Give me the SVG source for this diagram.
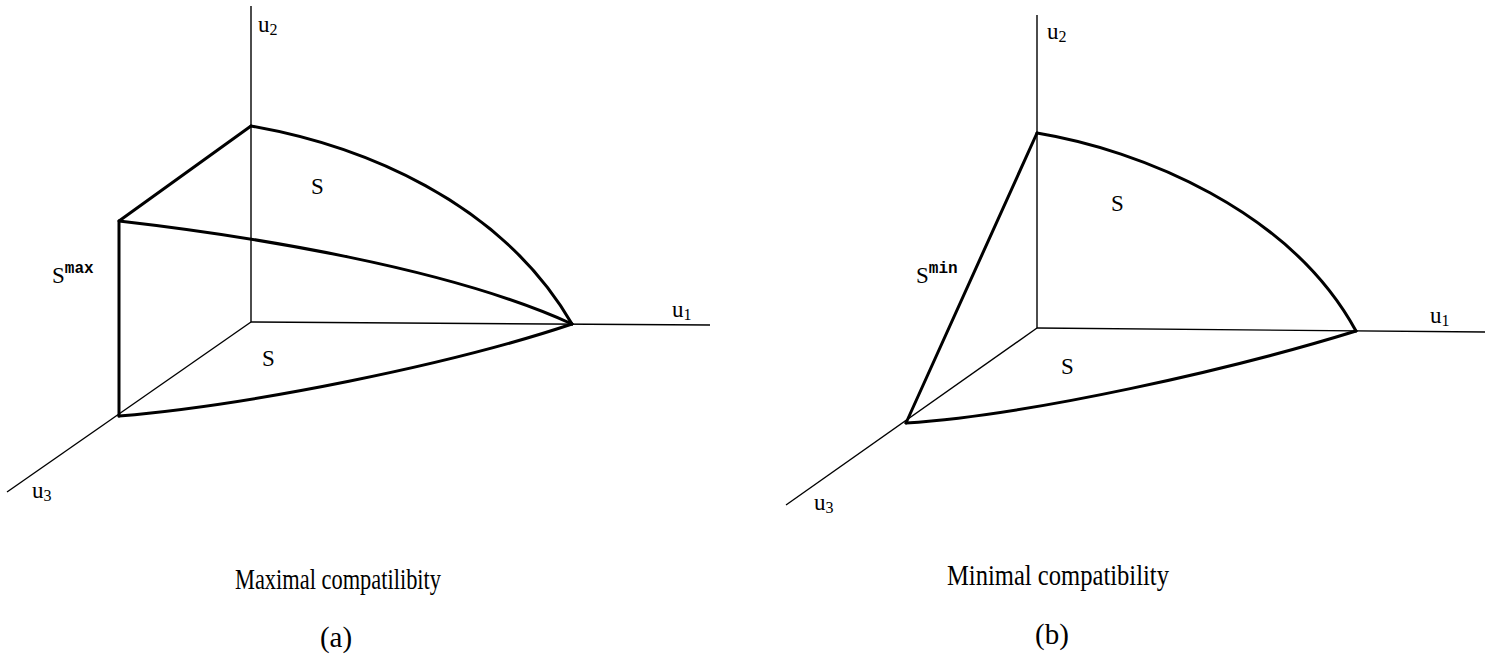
<svg xmlns="http://www.w3.org/2000/svg" width="1492" height="659" viewBox="0 0 1492 659">
<style>
.axis{stroke:#000;stroke-width:1.4;fill:none}
.bd{stroke:#000;stroke-width:3;fill:none;stroke-linejoin:round;stroke-linecap:round}
text{font-family:"Liberation Serif","Times New Roman",serif;fill:#000}
.lbl{font-size:23px}
.ax{font-size:23px}
.sub{font-size:16px}
.sup{font-size:16px;font-family:"Liberation Mono",monospace;font-weight:bold}
.cap{font-size:29px}
</style>
<rect width="1492" height="659" fill="#fff"/>
<g id="panel-a">
<g id="axes-a">
<line class="axis" x1="251" y1="6" x2="251" y2="322"/>
<line class="axis" x1="251" y1="322" x2="710" y2="325"/>
<line class="axis" x1="251" y1="322" x2="7" y2="492"/>
</g>
<g id="boundary-a">
<path class="bd" d="M119,416 L119,221 L251,126"/>
<path class="bd" d="M251,126 C360,145 500,200 572,324"/>
<path class="bd" d="M119,221 C250,236 450,268 572,324"/>
<path class="bd" d="M119,416 C250,405 450,365 572,324"/>
</g>
<text class="ax" x="258" y="32">u<tspan class="sub" dy="3">2</tspan></text>
<text class="lbl" x="311" y="194">S</text>
<text class="lbl" x="52" y="283">S<tspan class="sup" dy="-10">max</tspan></text>
<text class="lbl" x="262" y="366">S</text>
<text class="ax" x="672" y="317">u<tspan class="sub" dy="3">1</tspan></text>
<text class="ax" x="32" y="498">u<tspan class="sub" dy="3">3</tspan></text>
<text class="cap" x="338" y="589" text-anchor="middle" textLength="206" lengthAdjust="spacingAndGlyphs">Maximal compatilibity</text>
<text class="cap" x="336" y="647" text-anchor="middle">(a)</text>
</g>
<g id="panel-b">
<g id="axes-b">
<line class="axis" x1="1037" y1="15" x2="1037" y2="328"/>
<line class="axis" x1="1037" y1="328" x2="1485" y2="332"/>
<line class="axis" x1="1037" y1="328" x2="786" y2="505"/>
</g>
<g id="boundary-b">
<path class="bd" d="M906,423 L1037,133"/>
<path class="bd" d="M1037,133 C1140,150 1290,210 1356,331"/>
<path class="bd" d="M906,423 C1030,415 1230,370 1356,331"/>
</g>
<text class="ax" x="1047" y="39">u<tspan class="sub" dy="3">2</tspan></text>
<text class="lbl" x="1111" y="211">S</text>
<text class="lbl" x="916" y="283">S<tspan class="sup" dy="-10">min</tspan></text>
<text class="lbl" x="1061" y="374">S</text>
<text class="ax" x="1430" y="323">u<tspan class="sub" dy="3">1</tspan></text>
<text class="ax" x="814" y="510">u<tspan class="sub" dy="3">3</tspan></text>
<text class="cap" x="1058" y="585" text-anchor="middle" textLength="222" lengthAdjust="spacingAndGlyphs">Minimal compatibility</text>
<text class="cap" x="1052" y="644" text-anchor="middle">(b)</text>
</g>
</svg>
